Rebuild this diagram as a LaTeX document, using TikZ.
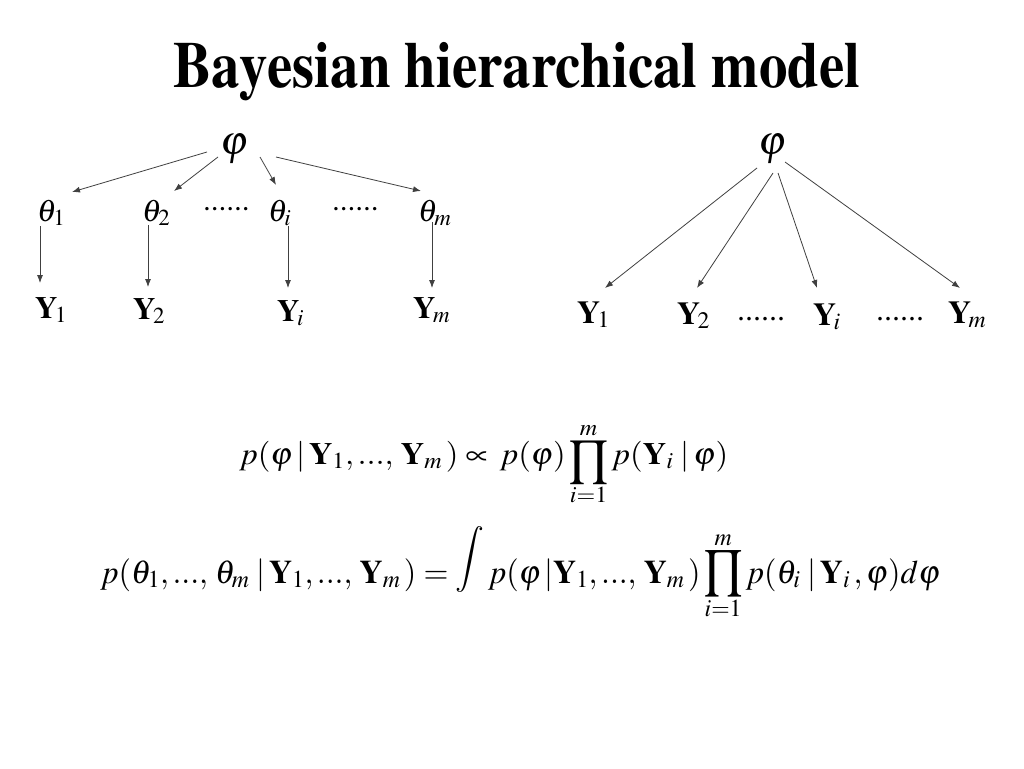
\documentclass[tikz,border=0pt]{standalone}
\usepackage[T1]{fontenc}
\usepackage{mathptmx}
\usepackage{graphicx}
\usetikzlibrary{arrows.meta}
\tikzset{
  lbl/.style={inner sep=0pt, anchor=base west, font=\fontsize{31}{33}\selectfont},
  lblr/.style={inner sep=0pt, anchor=base west, font=\fontsize{32}{34}\selectfont},
  phinode/.style={inner sep=0pt, anchor=center, font=\fontsize{41}{43}\selectfont},
  arr/.style={draw=black!75, line width=0.8pt, -{Latex[length=8pt,width=6pt]}},
  eqnode/.style={inner sep=0pt, anchor=base west}
}
\newcommand{\mydots}{\mathrm{...}}
\newsavebox{\prodstack}
\newcommand{\limprod}[1]{\mathop{\sbox{\prodstack}{\vbox{\offinterlineskip\halign{\hfil##\hfil\cr
  $\scriptstyle m$\cr\noalign{\kern5pt}
  \scalebox{1}[1.12]{$\displaystyle\prod$}\cr\noalign{\kern4pt}
  $\scriptstyle i=1$\cr}}}%
  \raisebox{\dimexpr(\dp\prodstack-\ht\prodstack)/2+#1\relax}{\usebox{\prodstack}}}}
\newcommand{\myint}{\mathop{\raisebox{15pt}{$\displaystyle\int$}}}
\begin{document}
\begin{tikzpicture}[x=1pt,y=-1pt]
\useasboundingbox (0,0) rectangle (1024,768);
\fill[white] (0,0) rectangle (1024,768);
% title
\node[inner sep=0pt, anchor=base west] (title) at (173,87)
  {\resizebox{687pt}{45pt}{\bfseries Bayesian hierarchical model}};
% left diagram
\node[phinode] (phiL) at (235,149) {$\varphi$};
\node[lbl] (th1) at (37,221) {$\theta_1$};
\node[lbl] (th2) at (142,221) {$\theta_2$};
\node[lbl] (dl1) at (203,210) {......};
\node[lbl] (thi) at (268,221) {$\theta_i$};
\node[lbl] (dl2) at (332,210) {......};
\node[lbl] (thm) at (418,221) {$\theta_m$};
\node[lbl] (y1) at (35,318) {$\mathbf{Y}_{\!1}$};
\node[lbl] (y2) at (133,319) {$\mathbf{Y}_{\!2}$};
\node[lbl] (yi) at (277,321) {$\mathbf{Y}_{\!i}$};
\node[lbl] (ym) at (413,318) {$\mathbf{Y}_{\!m}$};
\draw[arr] ([shift={(-28,3)}]phiL.center) -- ([shift={(35,-29)}]th1.base west);
\draw[arr] ([shift={(-17,8)}]phiL.center) -- ([shift={(32,-30)}]th2.base west);
\draw[arr] ([shift={(25,8)}]phiL.center) -- ([shift={(8,-36)}]thi.base west);
\draw[arr] ([shift={(41,8)}]phiL.center) -- ([shift={(3,-30)}]thm.base west);
\draw[arr] ([shift={(3,5)}]th1.base west) -- ([shift={(5,-35)}]y1.base west);
\draw[arr] ([shift={(6,4)}]th2.base west) -- ([shift={(15,-32)}]y2.base west);
\draw[arr] ([shift={(20,5)}]thi.base west) -- ([shift={(11,-33)}]yi.base west);
\draw[arr] ([shift={(14,1)}]thm.base west) -- ([shift={(19,-30)}]ym.base west);
% right diagram
\node[phinode] (phiR) at (773,149) {$\varphi$};
\node[lblr] (ry1) at (577,323) {$\mathbf{Y}_{\!1}$};
\node[lblr] (ry2) at (677,324) {$\mathbf{Y}_{\!2}$};
\node[lblr] (rd1) at (737,320) {......};
\node[lblr] (ryi) at (813,325) {$\mathbf{Y}_{\!i}$};
\node[lblr] (rd2) at (876,320) {......};
\node[lblr] (rym) at (948,323) {$\mathbf{Y}_{\!m}$};
\draw[arr] ([shift={(-16,19)}]phiR.center) -- ([shift={(28,-35)}]ry1.base west);
\draw[arr] ([shift={(0,24)}]phiR.center) -- ([shift={(20,-36)}]ry2.base west);
\draw[arr] ([shift={(5,24)}]phiR.center) -- ([shift={(4,-37)}]ryi.base west);
\draw[arr] ([shift={(12,13)}]phiR.center) -- ([shift={(12,-35)}]rym.base west);
% equations
\node[eqnode] (eq1) at (239,464)
  {\resizebox{489pt}{\height}{\fontsize{31}{33}\selectfont$\displaystyle p(\varphi\,|\,\mathbf{Y}_1,\mydots,\,\mathbf{Y}_m\,)\propto\, p(\varphi)\limprod{0pt}p(\mathbf{Y}_i\;|\,\varphi)$}};
\node[eqnode] (eq2) at (100,583)
  {\resizebox{840pt}{\height}{\fontsize{33}{35}\selectfont$\displaystyle p(\theta_1,\mydots,\,\theta_m\;|\,\mathbf{Y}_1,\mydots,\,\mathbf{Y}_m\,)=\myint p(\varphi\,|\mathbf{Y}_1,\mydots,\,\mathbf{Y}_m\,)\limprod{7pt}p(\theta_i\;|\,\mathbf{Y}_i\,,\varphi)d\varphi$}};
\end{tikzpicture}
\end{document}
